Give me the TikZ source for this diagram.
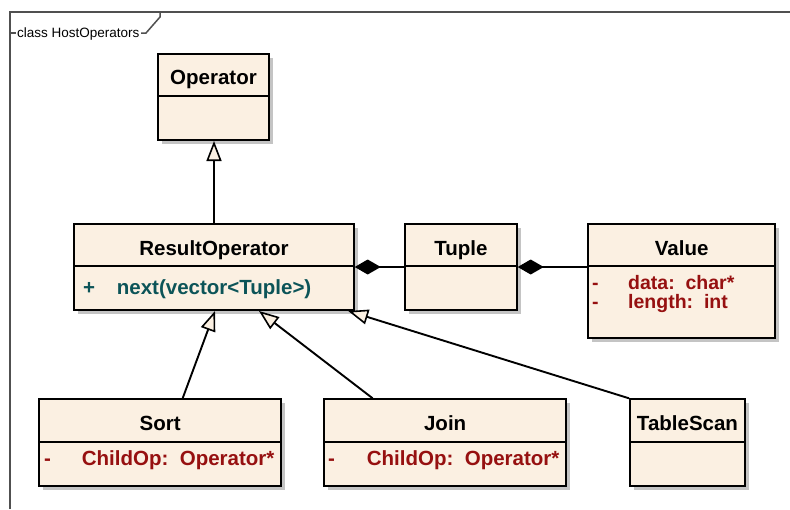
\documentclass[tikz,border=0pt]{standalone}
\usepackage{fontspec}
\setmainfont{Liberation Sans}
\usetikzlibrary{arrows.meta,shadows}

\definecolor{clsfill}{RGB}{251,240,226}
\definecolor{shadowgray}{RGB}{196,196,196}
\definecolor{opteal}{RGB}{12,84,88}
\definecolor{attred}{RGB}{150,16,16}
\definecolor{framegray}{RGB}{80,80,80}

\tikzset{
  cls/.style={draw=black, line width=2pt, fill=clsfill, anchor=north west, inner sep=0pt,
    drop shadow={shadow xshift=4pt, shadow yshift=-4pt, fill=shadowgray, opacity=1}},
  divider/.style={draw=black, line width=2pt},
  cname/.style={anchor=base, inner sep=0pt, font=\fontsize{20.5}{24}\selectfont\bfseries},
  member/.style={anchor=base west, inner sep=0pt,
    font=\fontsize{20.5}{24}\selectfont\bfseries},
  opmember/.style={member, text=opteal},
  attmember/.style={member, text=attred},
  tightmember/.style={attmember, font=\fontsize{19.5}{22}\selectfont\bfseries},
  inh/.style={draw=black, line width=1.9pt,
    -{Triangle[length=20pt, width=15pt, fill=clsfill, line width=1.6pt]}},
  comp/.style={draw=black, line width=1.9pt,
    {Diamond[length=26pt, width=15pt]}-},
  frameline/.style={draw=framegray, line width=1.5pt},
  framelabel/.style={anchor=base west, inner sep=0pt, font=\fontsize{13.5}{16}\selectfont}
}

\begin{document}
\begin{tikzpicture}[x=1pt, y=-1pt]
  \useasboundingbox[fill=white] (0,0) rectangle (790,509);

  % diagram frame with its name tab
  \draw[frameline] (10,509) -- (10,12) -- (790,12);
  \draw[frameline] (10,33) -- (16,33);
  \draw[frameline] (141,33) -- (146,33) -- (160,17) -- (160,12);
  \node[framelabel] (framename) at (17,37.5) {class HostOperators};

  % classes
  \node[cls, minimum width=111pt, minimum height=86pt] (op) at (157,53) {};
  \draw[divider] ([yshift=-43pt]op.north west) -- ([yshift=-43pt]op.north east);
  \node[cname] (opname) at ([yshift=-31pt]op.north) {Operator};

  \node[cls, minimum width=279.4pt, minimum height=86pt] (ro) at (73.3,223) {};
  \draw[divider] ([yshift=-42.7pt]ro.north west) -- ([yshift=-42.7pt]ro.north east);
  \node[cname] (roname) at ([yshift=-32pt]ro.north) {ResultOperator};
  \node[opmember] (rovis) at (83,294) {+};
  \node[opmember] (ronext) at (116.7,294) {next(vector<Tuple>)};

  \node[cls, minimum width=111.4pt, minimum height=86pt] (tuple) at (404.3,223) {};
  \draw[divider] ([yshift=-42.7pt]tuple.north west) -- ([yshift=-42.7pt]tuple.north east);
  \node[cname] (tuplename) at ([yshift=-32pt]tuple.north) {Tuple};

  \node[cls, minimum width=186.7pt, minimum height=114pt] (value) at (587.3,223) {};
  \draw[divider] ([yshift=-42.7pt]value.north west) -- ([yshift=-42.7pt]value.north east);
  \node[cname] (valuename) at ([yshift=-32pt]value.north) {Value};
  \node[tightmember] (vvis1) at (592,289) {-};
  \node[tightmember] (vdata) at (628,289) {data:\ \ char*};
  \node[tightmember] (vvis2) at (592,308) {-};
  \node[tightmember] (vlength) at (628,308) {length:\ \ int};

  \node[cls, minimum width=241.7pt, minimum height=87pt] (sort) at (38.3,398.3) {};
  \draw[divider] ([yshift=-43.4pt]sort.north west) -- ([yshift=-43.4pt]sort.north east);
  \node[cname] (sortname) at ([yshift=-32pt]sort.north) {Sort};
  \node[attmember] (svis) at (44,465) {-};
  \node[attmember] (schild) at (81.7,465) {ChildOp:\ \ Operator*};

  \node[cls, minimum width=241.7pt, minimum height=87pt] (join) at (323.3,398.3) {};
  \draw[divider] ([yshift=-43.4pt]join.north west) -- ([yshift=-43.4pt]join.north east);
  \node[cname] (joinname) at ([yshift=-32pt]join.north) {Join};
  \node[attmember] (jvis) at (328,465) {-};
  \node[attmember] (jchild) at (366.7,465) {ChildOp:\ \ Operator*};

  \node[cls, minimum width=115pt, minimum height=87pt] (tscan) at (629,398.3) {};
  \draw[divider] ([yshift=-43.4pt]tscan.north west) -- ([yshift=-43.4pt]tscan.north east);
  \node[cname] (tscanname) at ([yshift=-32pt]tscan.north) {TableScan};

  % generalisations
  \draw[inh] (ro.north) -- (ro.north |- op.south);
  \draw[inh] ([xshift=22.5pt]sort.north) -- ([xshift=1pt]ro.south);
  \draw[inh] ([xshift=-72.5pt]join.north) -- ([xshift=45pt]ro.south);
  \draw[inh] (tscan.north west) -- ([xshift=-6.5pt]ro.south east);

  % compositions
  \draw[comp] (ro.east) -- (tuple.west);
  \draw[comp] (tuple.east) -- (tuple.east -| value.west);
\end{tikzpicture}
\end{document}
